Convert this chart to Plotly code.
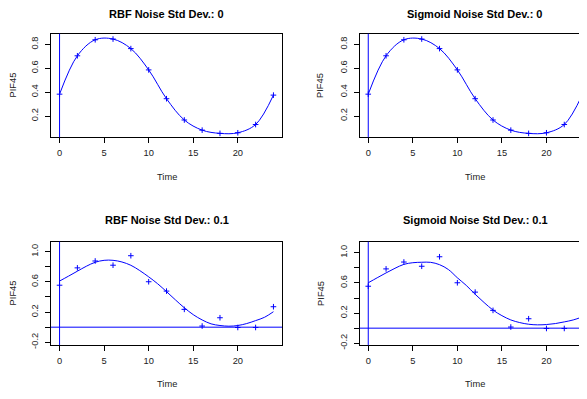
import plotly.graph_objects as go

# ---------------- data ----------------
time = [0, 2, 4, 6, 8, 10, 12, 14, 16, 18, 20, 22, 24]
pif45_clean = [0.383, 0.704, 0.838, 0.844, 0.764, 0.586, 0.345, 0.167, 0.082, 0.055, 0.060, 0.129, 0.375]
pif45_noisy = [0.556, 0.786, 0.877, 0.821, 0.947, 0.602, 0.478, 0.236, 0.015, 0.125, -0.004, -0.004, 0.271]

fit_time = list(range(0, 25))
rbf_fit_noisy = [0.611, 0.676, 0.742, 0.807, 0.860, 0.886, 0.886, 0.864, 0.820, 0.750,
                 0.667, 0.576, 0.471, 0.362, 0.257, 0.166, 0.096, 0.044, 0.022, 0.013,
                 0.022, 0.048, 0.087, 0.131, 0.205]
sigmoid_fit_noisy = [0.602, 0.668, 0.733, 0.794, 0.846, 0.868, 0.874, 0.873, 0.842, 0.777,
                     0.668, 0.567, 0.449, 0.340, 0.240, 0.166, 0.109, 0.074, 0.052, 0.044,
                     0.048, 0.061, 0.083, 0.109, 0.148]

titles = ["RBF Noise Std Dev.: 0", "Sigmoid Noise Std Dev.: 0",
          "RBF Noise Std Dev.: 0.1", "Sigmoid Noise Std Dev.: 0.1"]
x_ticks = [0, 5, 10, 15, 20]
y_ticks_top = [0.2, 0.4, 0.6, 0.8]
y_text_top = ["0.2", "0.4", "0.6", "0.8"]
y_ticks_bot = [-0.2, 0.0, 0.2, 0.4, 0.6, 0.8, 1.0]
y_text_bot = ["-0.2", "", "0.2", "", "0.6", "", "1.0"]

# ---------------- layout geometry ----------------
# page has an 8px body margin; figure is sized so it fills the window exactly
OFF = 8
W, H = 587 - OFF, 399 - OFF
BLUE = "#0000FF"
FONT = "Liberation Sans, Arial, Helvetica, sans-serif"


def fx(p):
    return (p - OFF) / W


def fy(p):
    return 1 - (p - OFF) / H


panels = [
    dict(box=(51, 282, 34, 139), xr=[-0.96, 24.96], yr=[0.022, 0.889], cx=166.5,
         title_y=14.3, xlab_y=179, ylab_x=13, full=True),
    dict(box=(359.7, 587, 34, 139), xr=[-0.96, 24.55], yr=[0.022, 0.889], cx=475.2,
         title_y=14.3, xlab_y=179, ylab_x=320.5, full=False),
    dict(box=(51, 282, 244.7, 349.5), xr=[-0.96, 24.96], yr=[-0.238, 1.133], cx=166.5,
         title_y=222.3, xlab_y=389, ylab_x=13, full=True),
    dict(box=(359.7, 587, 244.7, 349.5), xr=[-0.96, 24.55], yr=[-0.225, 1.147], cx=475.2,
         title_y=222.3, xlab_y=389, ylab_x=321.5, full=False),
]

series = [
    (pif45_clean, time, pif45_clean),
    (pif45_clean, time, pif45_clean),
    (pif45_noisy, fit_time, rbf_fit_noisy),
    (pif45_noisy, fit_time, sigmoid_fit_noisy),
]

fig = go.Figure()
annotations = []
shapes = []
for i, (p, (pts, ft, fv)) in enumerate(zip(panels, series)):
    n = "" if i == 0 else str(i + 1)
    xa, ya = "x" + n, "y" + n
    x0, x1, y0, y1 = p["box"]
    fig.add_trace(go.Scatter(x=ft, y=fv, mode="lines",
                             line=dict(color=BLUE, width=1, shape="spline", smoothing=1.0),
                             xaxis=xa, yaxis=ya, showlegend=False, hoverinfo="skip"))
    fig.add_trace(go.Scatter(x=time, y=pts, mode="markers",
                             marker=dict(symbol="cross-thin", size=4, line=dict(color=BLUE, width=1), color=BLUE),
                             xaxis=xa, yaxis=ya, showlegend=False))
    is_bottom = i >= 2
    axis_common = dict(showgrid=False, zeroline=False, showline=True, linecolor="black", linewidth=1,
                       ticks="outside", ticklen=5, tickwidth=1, tickcolor="black",
                       tickfont=dict(family=FONT, size=9.3, color="#222"))
    fig.layout["xaxis" + n] = dict(axis_common, domain=[fx(x0), min(fx(x1), 1.0)], range=p["xr"],
                                   anchor=ya, mirror=True, tickvals=x_ticks,
                                   ticktext=[str(v) for v in x_ticks], ticklabelstandoff=2)
    ytv, ytt = (y_ticks_bot, y_text_bot) if is_bottom else (y_ticks_top, y_text_top)
    fig.layout["yaxis" + n] = dict(axis_common, domain=[fy(y1), fy(y0)], range=p["yr"],
                                   anchor=xa, mirror=p["full"], tickvals=ytv, ticktext=ytt,
                                   tickangle=-90, ticklabelstandoff=3)
    shapes.append(dict(type="line", xref=xa, yref=ya + " domain", x0=0, x1=0, y0=0, y1=1,
                       line=dict(color=BLUE, width=1)))
    if is_bottom:
        shapes.append(dict(type="line", xref=xa + " domain", yref=ya, x0=0, x1=1, y0=0, y1=0,
                           line=dict(color=BLUE, width=1)))
    annotations.append(dict(text="<b>" + titles[i] + "</b>", x=fx(p["cx"]), y=fy(p["title_y"]),
                            xref="paper", yref="paper", showarrow=False, xanchor="center", yanchor="middle",
                            font=dict(family=FONT, size=11, color="black")))
    annotations.append(dict(text="Time", x=fx(p["cx"]), y=fy(p["xlab_y"]),
                            xref="paper", yref="paper", showarrow=False, xanchor="center", yanchor="middle",
                            font=dict(family=FONT, size=9.3, color="#222")))
    annotations.append(dict(text="PIF45", x=fx(p["ylab_x"]), y=fy((y0 + y1) / 2), textangle=-90,
                            xref="paper", yref="paper", showarrow=False, xanchor="center", yanchor="middle",
                            font=dict(family=FONT, size=9.3, color="#222")))

fig.update_layout(width=W, height=H, margin=dict(l=0, r=0, t=0, b=0),
                  paper_bgcolor="white", plot_bgcolor="white",
                  annotations=annotations, shapes=shapes, showlegend=False)

fig.write_html("out.html")
